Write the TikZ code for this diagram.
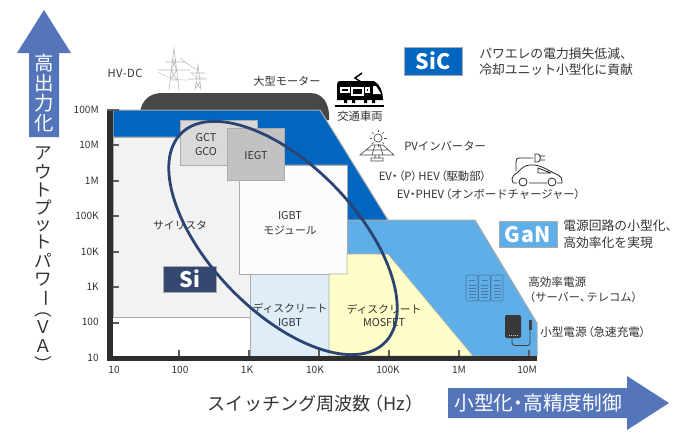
\documentclass[tikz,border=0pt]{standalone}
\usepackage{fontspec}
\usetikzlibrary{calc}
\setmainfont{Noto Sans CJK JP}
\definecolor{txt}{HTML}{333333}
\definecolor{arrowblue}{HTML}{5575BB}
\definecolor{sicblue}{HTML}{0066C0}
\definecolor{ganblue}{HTML}{5FAEE8}
\definecolor{navy}{HTML}{2C4474}
\definecolor{sinavy}{HTML}{34486F}
\definecolor{edge}{HTML}{ABABAB}
\definecolor{iconblue}{HTML}{4A7BA6}
\definecolor{lightblue}{HTML}{DFEDF9}
\definecolor{paleyellow}{HTML}{FFFDC8}
\newcommand{\nk}{\kern-.25em・\kern-.25em}
\newcommand{\lp}{\kern-.35em（\kern-.05em}
\newcommand{\rp}{\kern-.05em）\kern-.35em}
\newcommand{\lph}{\kern-.5em（}
\newcommand{\rph}{）\kern-.5em}
\newcommand{\rot}[1]{\rotatebox[origin=c]{-90}{#1}}
\tikzset{
 lab/.style={text=txt,inner sep=0pt,font=\fontsize{8.1}{10}\selectfont},
 leftlab/.style={lab,anchor=west},
 biglab/.style={leftlab,font=\fontsize{9.6}{11}\selectfont},
 midlab/.style={leftlab,font=\fontsize{8.7}{10}\selectfont},
 evlab/.style={leftlab,font=\fontsize{8.5}{10}\selectfont},
 axlab/.style={text=txt,inner sep=0pt,font=\fontsize{7.6}{9}\selectfont},
 vlab/.style={text=txt,inner sep=0pt,font=\fontsize{13.2}{15}\selectfont},
 region/.style={draw=edge,line width=0.75pt},
 badge/.style={draw=edge,line width=0.6pt,text=white,inner sep=0pt,font=\bfseries\fontsize{16}{18}\selectfont},
 bigarrow/.style={fill=arrowblue,draw=none},
 tick/.style={draw=txt!80,line width=1pt},
 pylon/.style={draw=black!28,line width=0.45pt},
 caric/.style={draw=black!85,line width=0.6pt,line join=round},
}
\begin{document}
\begin{tikzpicture}[x=0.75pt,y=-0.75pt]
\useasboundingbox (0,0) rectangle (680,440);
% arrows
\fill[bigarrow] (44,10)--(71,53)--(59,53)--(59,137)--(29,137)--(29,53)--(17,53)--cycle;
\node[inner sep=0pt,text=white,align=center,font=\fontsize{14.6}{15}\selectfont] (hp) at (44,93.5) {高\\出\\力\\化};
\fill[bigarrow] (448,388)--(627,388)--(627,376)--(669,403)--(627,430)--(627,418)--(448,418)--cycle;
\node[inner sep=0pt,anchor=west,text=white,font=\fontsize{14.8}{16}\selectfont] (sm) at (454,403) {小型化\nk 高精度制御};
% axis titles
\foreach \n/\c/\y in {a/ア/153,b/ウ/172,c/ト/190,d/プ/207.5,e/ッ/226,f/ト/242,g/パ/260,h/ワ/280}
  \node[vlab] (yt\n) at (43.5,\y) {\c};
\node[vlab] (yti) at (43.5,298) {\rot{ー}};
\node[vlab] (ytj) at (43.5,309) {\rot{（}};
\node[vlab] (ytk) at (43.5,327) {Ｖ};
\node[vlab] (ytl) at (43.5,346) {Ａ};
\node[vlab] (ytm) at (43.5,364) {\rot{）}};
\node[inner sep=0pt,anchor=west,text=txt,font=\fontsize{13.6}{15}\selectfont] (xt) at (207.5,404) {スイッチング周波数\kern.2em\lph Hz\rph};
% motor shape
\fill[black!72] (140,112) .. controls (142,100) and (150,93) .. (162,93) -- (310,93) .. controls (322,93) and (330,102) .. (329,120) -- (140,120) -- cycle;
% regions
\filldraw[region,fill=ganblue] (329,220)--(475,220)--(537,323)--(537,356)--(329,356)--cycle;
\filldraw[region,fill=sicblue] (113,110)--(320,110)--(388,220)--(347,220)--(347,165)--(180,165)--(180,137)--(113,137)--cycle;
\filldraw[region,fill=black!5] (113,137)--(250,137)--(250,317)--(113,317)--cycle;
\fill[white] (113,318) rectangle (250,356);
\filldraw[region,fill=black!15] (180,120) rectangle (257,165);
\filldraw[region,fill=black!24] (227,128) rectangle (284,180);
\filldraw[region,fill=black!1] (239,180)--(239,274)--(347,274)--(347,165)--(284,165)--(284,180)--cycle;
\filldraw[region,fill=lightblue] (250,274) rectangle (329,356);
\filldraw[draw=edge,line width=0.4pt,fill=paleyellow] (329,274)--(347,274)--(347,254)--(388,254)--(473,356)--(329,356)--cycle;
% chart labels
\node[lab] (gct) at (206,138) {GCT};
\node[lab] (gco) at (206,152) {GCO};
\node[lab] (iegt) at (256,155.5) {IEGT};
\node[lab] (igbt) at (290,216) {IGBT};
\node[lab] (mod) at (290,230) {モジュール};
\node[lab] (thy) at (180,225) {サイリスタ};
\node[lab] (d1) at (290,308) {ディスクリート};
\node[lab] (d2) at (290,323) {IGBT};
\node[lab] (d3) at (384,309) {ディスクリート};
\node[lab] (d4) at (384,323) {MOSFET};
\node[badge,fill=sinavy,minimum width=40pt,minimum height=19.5pt] (si) at (190,279) {Si};
% axes
\draw[tick] (113,145)--(119,145) (113,181)--(119,181) (113,216)--(119,216) (113,252)--(119,252) (113,287)--(119,287) (113,323)--(119,323);
\draw[tick] (179,350)--(179,356) (249,350)--(249,356) (319,350)--(319,356) (389,350)--(389,356) (459,350)--(459,356) (529,350)--(529,356);
\fill[black!82] (107,110) rectangle (113,361);
\fill[black!82] (107,356) rectangle (537,361);
\draw[tick] (107,110)--(119,110);
\foreach \n/\t/\y in {a/100M/110,b/10M/145,c/1M/181,d/100K/216,e/10K/252,f/1K/287,g/100/322,h/10/358}
  \node[axlab,anchor=east] (y\n) at (99,\y) {\t};
\foreach \n/\t/\x in {a/10/114,b/100/180,c/1K/247,d/10K/315,e/100K/388,f/1M/459,g/10M/527}
  \node[axlab] (x\n) at (\x,370) {\t};
% ellipse
\draw[navy,line width=2.1pt] (283,238) ellipse [x radius=146,y radius=73,rotate=-46];
% right labels
\node[lab,font=\fontsize{8.4}{10}\selectfont\addfontfeature{LetterSpace=4}] (hv) at (125,73) {HV-DC};
\node[lab,font=\fontsize{8.4}{10}\selectfont] (mot) at (287,81) {大型モーター};
\node[lab,font=\fontsize{8.5}{10}\selectfont] (tr) at (360,116) {交通車両};
\node[leftlab,font=\fontsize{8.5}{10}\selectfont] (pv) at (404,146) {PVインバーター};
\node[evlab] (ev1) at (378.5,176) {EV\nk\lp P\rp HEV\lp 駆動部\rp};
\node[evlab] (ev2) at (396.5,194) {EV\nk PHEV\lp オンボードチャージャー\rp};
\node[badge,fill=sicblue,minimum width=43.5pt,minimum height=21pt,font=\bfseries\fontsize{16}{18}\selectfont\addfontfeature{LetterSpace=2}] (sic) at (433,61) {SiC};
\node[badge,fill=ganblue,minimum width=43.5pt,minimum height=20pt,font=\bfseries\fontsize{16}{18}\selectfont\addfontfeature{LetterSpace=4}] (gan) at (528,234.5) {GaN};
\node[biglab] (s1) at (479,54) {パワエレの電力損失低減、};
\node[biglab] (s2) at (479,70) {冷却ユニット小型化に貢献};
\node[biglab] (g1) at (563,226) {電源回路の小型化、};
\node[biglab] (g2) at (563,243) {高効率化を実現};
\node[midlab] (h1) at (528,282) {高効率電源};
\node[leftlab,font=\fontsize{8.4}{10}\selectfont] (h2) at (529.5,297) {\lph サーバー、\kern-.4em テレコム\rph};
\node[midlab] (c1) at (540,332) {小型電源\lp 急速充電\rp};
% pylons
\draw[pylon] (169,90)--(174,48)--(179,90) (171,70)--(177,70) (170,80)--(178,80) (172,60)--(176,60)
 (171,70)--(177,80) (177,70)--(170,80) (172,60)--(177,70) (176,60)--(171,70)
 (158,70)--(190,70) (165,62)--(184,62) (180,58)..controls (188,65) and (194,68)..(198,70);
\draw[pylon] (195,90)--(198,65)--(201,90) (188,79)--(207,79) (191,73)--(205,73) (196,82)--(200,88) (200,82)--(196,88);
\draw[pylon,black!18] (158,72)..controls (170,80) and (182,80)..(188,80) (190,72)..controls (194,77) and (198,78)..(205,78);
% train
\fill[black] (337,85) .. controls (337,82) and (338,81) .. (340,81) -- (374,81) .. controls (380,84) and (383,92) .. (383,99) -- (383,100) -- (337,100) -- cycle;
\fill[black] (344,100) rectangle (347,103) (352,100) rectangle (355,103) (364,100) rectangle (367,103) (372,100) rectangle (375,103);
\draw[black,line width=1.1pt] (362,73)--(355,78)--(361,82);
\draw[white,line width=0.8pt] (341,88) rectangle (349,92) (352,88) rectangle (363,95);
\draw[white,line width=0.8pt] (366,88) rectangle (369,92);
\fill[white] (373,86)--(376,86)--(381,94)--(373,94)--cycle;
\draw[black,line width=0.9pt] (335,106)--(384,106);
% solar
\draw[black!70,line width=0.5pt] (378,138) circle (4);
\foreach \a in {0,45,...,315} \draw[black!70,line width=0.5pt] ($(378,138)+(\a:6)$)--($(378,138)+(\a:8.5)$);
\draw[black!70,line width=0.5pt] (372,145)--(383,145)--(394,155)--(360,155)--cycle (366,150)--(388.5,150) (375,145)--(372,155) (380,145)--(383,155) (375,155)--(375,158) (379,155)--(379,158) (371,158) rectangle (383,161);
% car
\draw[caric] (513,183)--(512,179)..controls (512,176) and (514,175)..(518,172)..controls (522,168) and (525,165)..(530,165)..controls (540,164) and (547,170)..(558,175)..controls (561,176) and (562,178)..(562,183)--(557,183) (547,183)--(529,183) (517,183)--(513,183);
\draw[caric] (523,182) circle (4) (552,182) circle (4);
\draw[caric] (538,168)--(538,173)--(551,173)--cycle;
\draw[caric] (516,171)--(516,162)..controls (516,159) and (517,158)..(519,158)--(533,158) (535,154)--(535,162)--(538,162)..controls (541,162) and (541,154)..(538,154)--cycle (540,156)--(545,156) (540,160)--(545,160);
% server
\foreach \x in {466,478.5,491} {
 \draw[iconblue,line width=0.6pt,rounded corners=1pt] (\x,275) rectangle (\x+12,301);
 \foreach \y in {285,288,291,294,297} \draw[iconblue,line width=0.6pt] (\x+2.5,\y)--(\x+9.5,\y);
 \draw[iconblue,line width=0.6pt] (\x+3,280)--(\x+9,280);
}
% charger
\fill[black!78,rounded corners=1pt] (505,315) rectangle (521,338);
\foreach \x in {509,511,513,515,517} \fill[white!80!black] (\x-0.5,334.5) rectangle (\x+0.5,335.5);
\draw[black!75,line width=0.6pt,rounded corners=2pt] (512,338)--(512,345.5)--(530,345.5)--(530,328);
\fill[black!75] (529,320) rectangle (531.5,330);
\end{tikzpicture}
\end{document}
